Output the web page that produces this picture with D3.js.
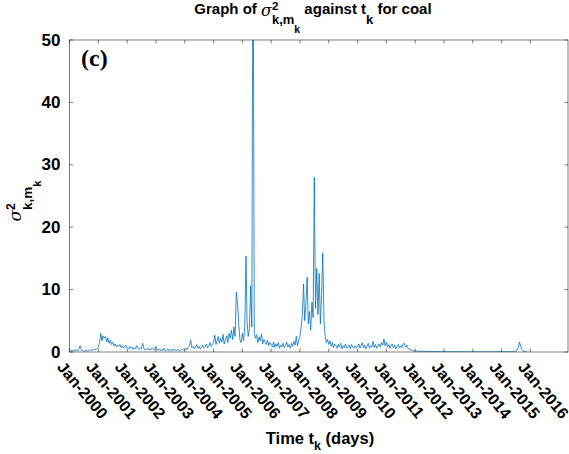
<!DOCTYPE html>
<html>
<head>
<meta charset="utf-8">
<script src="https://cdn.jsdelivr.net/npm/d3@7"></script>
<style>
  body { margin: 0; background: #fff; }
</style>
</head>
<body>
<div id="container"></div>
<script>
// semi-monthly samples of sigma^2 (1st and 16th of each month)
const v2000 = [0.2,0.1,0.3,0.2,0.1,0.4,0.2,0.3,0.5,1.0,0.3,0.2,0.1,0.2,0.3,0.1,0.2,0.4,0.2,0.3,0.5,0.3,0.4,0.6];
const v2001 = [0.8,1.5,3.0,1.8,2.6,2.2,2.5,1.6,2.3,1.4,1.9,1.2,1.6,1.0,1.3,0.8,1.1,0.9,1.2,0.7,1.0,0.6,0.9,1.1];
const v2002 = [0.7,0.5,0.9,0.6,0.8,0.4,0.7,0.5,1.0,0.6,0.4,0.7,0.5,1.4,0.6,0.3,0.5,0.4,0.6,0.3,0.5,0.7,0.4,0.3];
const v2003 = [0.9,0.4,0.3,0.5,0.2,0.4,0.3,0.6,0.2,0.3,0.5,0.2,0.4,0.3,0.2,0.5,0.3,0.2,0.4,0.3,0.2,0.4,0.3,0.5];
const v2004 = [0.3,0.6,0.4,0.8,1.0,1.9,0.7,0.9,0.5,0.8,1.2,0.6,0.9,0.5,0.7,1.1,0.6,0.8,1.3,0.7,1.0,1.5,0.9,1.2];
const v2005 = [1.5,2.7,1.2,1.8,2.5,1.4,2.2,1.6,2.8,1.3,2.0,2.6,1.5,3.0,2.2,3.5,2.0,4.0,2.5,9.6,7.7,4.5,2.0,1.5];
const v2006 = [3.0,1.8,4.0,15.4,5.0,2.5,3.8,10.6,4.0,75,3.0,2.2,2.8,1.5,2.4,1.8,2.9,1.3,2.0,1.6,1.2,1.9,1.0,1.5];
const v2007 = [1.2,0.8,1.6,0.7,1.3,0.9,1.5,0.6,1.1,0.8,1.4,0.7,1.0,1.6,0.8,1.2,0.6,1.4,0.9,1.7,1.1,2.5,1.0,1.8];
const v2008 = [2.5,4.0,6.0,10.9,5.0,7.5,12.0,4.5,6.5,3.5,8.0,5.5,28.0,7.0,13.4,6.0,12.6,4.5,9.0,15.9,5.0,2.5,1.5,2.0];
const v2009 = [1.2,1.8,0.9,1.5,0.7,1.3,1.0,0.6,1.2,0.8,1.4,0.5,1.0,0.7,1.3,0.6,0.9,1.1,0.5,1.2,0.8,0.6,1.0,0.7];
const v2010 = [0.8,1.3,0.6,1.0,1.5,0.7,1.1,0.5,0.9,1.4,0.6,1.0,0.8,1.7,0.7,1.2,0.6,1.0,1.3,0.8,1.5,1.1,2.1,1.0];
const v2011 = [1.6,0.8,1.2,0.6,1.0,1.3,0.7,1.1,0.5,0.9,1.2,0.6,1.0,0.7,1.3,1.4,0.8,1.1,0.6,0.5,0.4,0.3,0.2,0.2];
const v2012 = [0.15,0.1,0.2,0.1,0.12,0.08,0.1,0.15,0.08,0.1,0.06,0.1,0.12,0.07,0.08,0.1,0.06,0.05,0.08,0.06,0.07,0.05,0.06,0.08];
const v2013 = [0.05,0.06,0.04,0.05,0.07,0.04,0.05,0.03,0.04,0.06,0.05,0.04,0.03,0.05,0.04,0.03,0.04,0.05,0.03,0.04,0.03,0.05,0.04,0.03];
const v2014 = [0.04,0.03,0.05,0.03,0.04,0.03,0.02,0.04,0.03,0.05,0.03,0.04,0.02,0.03,0.04,0.03,0.02,0.03,0.04,0.03,0.05,0.03,0.04,0.05];
const v2015 = [0.05,0.04,0.06,0.04,0.05,0.03,0.05,0.04,0.06,0.05,0.08,0.1,0.15,0.3,0.8,1.6,0.9,0.4,0.2,0.1,0.05,0.04];

const yearValues = [v2000,v2001,v2002,v2003,v2004,v2005,v2006,v2007,v2008,v2009,v2010,v2011,v2012,v2013,v2014,v2015];
const tickYears = d3.range(2000, 2017);
const yTicks = [0, 10, 20, 30, 40, 50];

const series = [];
yearValues.forEach((vals, yi) => {
    vals.forEach((v, i) => {
        series.push({date: new Date(2000 + yi, Math.floor(i / 2), i % 2 ? 16 : 1), value: v});
    });
});

const width = 569;
const height = 454;
const FONT = "'Liberation Sans', Arial, Helvetica, sans-serif";
const SYMBOL = "'DejaVu Serif', serif";
const margin = {left: 69.5, right: 568, top: 40, bottom: 352};

const svg = d3.select('#container').append('svg')
    .attr('width', width)
    .attr('height', height)
    .style('display', 'block');

const x = d3.scaleTime()
    .domain([new Date(2000, 0, 1), new Date(2017, 3, 22)])
    .range([margin.left, margin.right]);

const y = d3.scaleLinear()
    .domain([0, 50])
    .range([margin.bottom, margin.top]);

svg.append('clipPath')
    .attr('id', 'plot-clip')
    .append('rect')
    .attr('x', margin.left)
    .attr('y', margin.top)
    .attr('width', margin.right - margin.left)
    .attr('height', margin.bottom - margin.top);

const line = d3.line()
    .x(d => x(d.date))
    .y(d => y(d.value));

svg.append('path')
    .datum(series)
    .attr('clip-path', 'url(#plot-clip)')
    .attr('d', line)
    .attr('fill', 'none')
    .attr('stroke', '#0072BD')
    .attr('stroke-width', 0.8)
    .attr('stroke-linejoin', 'round');

// axes box
svg.append('rect')
    .attr('x', margin.left)
    .attr('y', margin.top)
    .attr('width', margin.right - margin.left)
    .attr('height', margin.bottom - margin.top)
    .attr('fill', 'none')
    .attr('stroke', '#262626')
    .attr('stroke-width', 0.6);

const xTickDates = tickYears.map(yr => new Date(yr, 0, 1));
const fmt = d3.timeFormat('%b-%Y');

svg.selectAll('line.xtick-b')
    .data(xTickDates)
    .enter()
    .append('line')
    .attr('x1', d => x(d)).attr('x2', d => x(d))
    .attr('y1', margin.bottom).attr('y2', margin.bottom - 3.5)
    .attr('stroke', '#262626').attr('stroke-width', 0.6);

svg.selectAll('line.xtick-t')
    .data(xTickDates)
    .enter()
    .append('line')
    .attr('x1', d => x(d)).attr('x2', d => x(d))
    .attr('y1', margin.top).attr('y2', margin.top + 3.5)
    .attr('stroke', '#262626').attr('stroke-width', 0.6);

svg.selectAll('text.xlabel')
    .data(xTickDates)
    .enter()
    .append('text')
    .attr('transform', d => `translate(${x(d) - 9},${margin.bottom + 12}) rotate(50)`)
    .attr('dominant-baseline', 'central')
    .attr('font-family', FONT)
    .attr('font-weight', 'bold')
    .attr('font-size', '16px')
    .attr('fill', '#000')
    .text(d => fmt(d));

svg.selectAll('line.ytick-l')
    .data(yTicks)
    .enter()
    .append('line')
    .attr('x1', margin.left).attr('x2', margin.left + 3.5)
    .attr('y1', d => y(d)).attr('y2', d => y(d))
    .attr('stroke', '#262626').attr('stroke-width', 0.6);

svg.selectAll('line.ytick-r')
    .data(yTicks)
    .enter()
    .append('line')
    .attr('x1', margin.right).attr('x2', margin.right - 3.5)
    .attr('y1', d => y(d)).attr('y2', d => y(d))
    .attr('stroke', '#262626').attr('stroke-width', 0.6);

svg.selectAll('text.ylabel')
    .data(yTicks)
    .enter()
    .append('text')
    .attr('x', margin.left - 9)
    .attr('y', d => y(d))
    .attr('text-anchor', 'end')
    .attr('dominant-baseline', 'central')
    .attr('font-family', FONT)
    .attr('font-weight', 'bold')
    .attr('font-size', '17px')
    .attr('fill', '#000')
    .text(d => d);

// lays out text pieces with sub/superscripts, centred on the group's origin
const mathText = (parent, pieces) => {
    const g = parent.append('g');
    let cx = 0, lastStart = 0, lastEnd = 0;
    pieces.forEach(p => {
        const start = p.stack ? lastStart : cx;
        const t = g.append('text')
            .attr('x', start)
            .attr('y', p.dy || 0)
            .attr('font-family', p.family || FONT)
            .attr('font-weight', p.weight || 'bold')
            .attr('font-style', p.style || 'normal')
            .attr('font-size', p.size + 'px')
            .attr('fill', '#000')
            .attr('xml:space', 'preserve')
            .text(p.text);
        const w = t.node().getComputedTextLength();
        cx = p.stack ? Math.max(lastEnd, start + w) : start + w;
        lastStart = start;
        lastEnd = start + w;
    });
    g.selectAll('text').attr('x', function () { return +d3.select(this).attr('x') - cx / 2; });
    return g;
};

const title = svg.append('g').attr('transform', 'translate(313,14)');
mathText(title, [
    {text: 'Graph of ', size: 15},
    {text: 'σ', size: 16, weight: 'normal', style: 'italic', family: SYMBOL, dy: 2},
    {text: '2', size: 11.5, dy: -4},
    {text: 'k,m', size: 13, dy: 10, stack: true},
    {text: 'k', size: 10.5, dy: 19},
    {text: ' against t', size: 15},
    {text: 'k', size: 13, dy: 10},
    {text: ' for coal', size: 15}
]);

const xTitle = svg.append('g').attr('transform', 'translate(320,444)');
mathText(xTitle, [
    {text: 'Time t', size: 16.5},
    {text: 'k', size: 12.5, dy: 6},
    {text: ' (days)', size: 16.5}
]);

const yTitle = svg.append('g').attr('transform', 'translate(21,201) rotate(-90)');
mathText(yTitle, [
    {text: 'σ', size: 17, weight: 'normal', style: 'italic', family: SYMBOL},
    {text: '2', size: 12, dy: -6},
    {text: 'k,m', size: 13.5, dy: 11, stack: true},
    {text: 'k', size: 11, dy: 20}
]);

svg.append('text')
    .attr('x', 81)
    .attr('y', 66)
    .attr('font-family', "'Liberation Serif', 'Times New Roman', serif")
    .attr('font-weight', 'bold')
    .attr('font-size', '24px')
    .attr('fill', '#000')
    .text('(c)');
</script>
</body>
</html>
